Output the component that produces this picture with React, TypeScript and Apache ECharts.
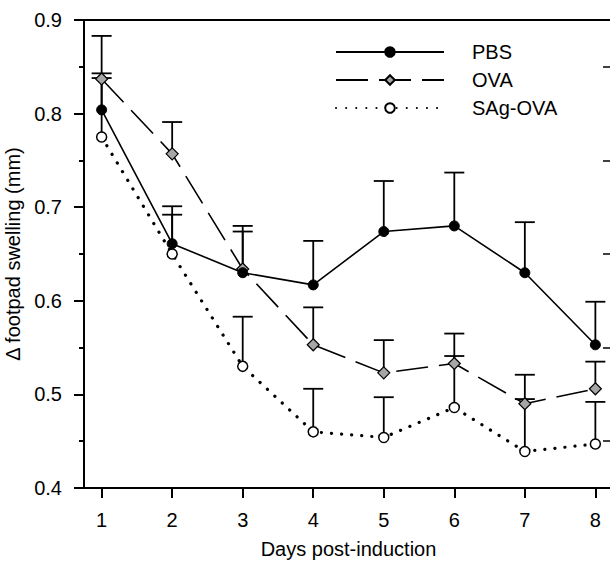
import React, { useEffect, useRef } from "react";
import * as echarts from "echarts";

const days = [1, 2, 3, 4, 5, 6, 7, 8];
const pbsMean = [0.804, 0.661, 0.630, 0.617, 0.674, 0.680, 0.630, 0.553];
const pbsUpper = [0.883, 0.701, 0.674, 0.664, 0.728, 0.737, 0.684, 0.599];
const ovaMean = [0.837, 0.757, 0.634, 0.553, 0.523, 0.533, 0.490, 0.506];
const ovaUpper = [0.843, 0.791, 0.680, 0.593, 0.558, 0.565, 0.521, 0.535];
const sagMean = [0.775, 0.650, 0.530, 0.460, 0.454, 0.486, 0.439, 0.447];
const sagUpper = [0.838, 0.692, 0.583, 0.506, 0.497, 0.541, 0.495, 0.492];
const seriesNames = ["PBS", "OVA", "SAg-OVA"];
const xTitle = "Days post-induction";
const yTitle = "\u0394 footpad swelling (mm)";

const FONT = "'Liberation Sans', Arial, sans-serif";
const FS = 20;

export default function App() {
  const ref = useRef<HTMLDivElement>(null);
  useEffect(() => {
    document.body.style.margin = "0";
    const chart = echarts.init(ref.current!, null, { renderer: "svg" });
    const errSeries = (name: string, mean: number[], upper: number[]) => ({
      type: "custom",
      name: name + "-err",
      z: 1,
      silent: true,
      data: days.map((d, i) => [d, mean[i], upper[i]]),
      encode: { x: 0, y: [1, 2] },
      renderItem: (params: any, api: any) => {
        const p = api.coord([api.value(0), api.value(1)]);
        const t = api.coord([api.value(0), api.value(2)]);
        const st = { stroke: "#000", lineWidth: 1.8 };
        return {
          type: "group",
          children: [
            { type: "line", shape: { x1: p[0], y1: p[1], x2: t[0], y2: t[1] }, style: st },
            { type: "line", shape: { x1: t[0] - 10, y1: t[1], x2: t[0] + 10, y2: t[1] }, style: st },
          ],
        };
      },
    });
    const option: any = {
      animation: false,
      textStyle: { fontFamily: FONT, color: "#000" },
      grid: { left: 84, right: -3, top: 20, bottom: 73, outerBoundsMode: "none" },
      legend: {
        data: seriesNames,
        orient: "vertical",
        left: 330,
        top: 37,
        itemWidth: 108,
        itemHeight: 12,
        itemGap: 8,
        textStyle: { fontSize: FS, fontFamily: FONT, color: "#000", padding: [0, 0, 0, 23] },
      },
      xAxis: [
        {
          type: "value",
          min: 0.75,
          max: 8.25,
          name: xTitle,
          nameLocation: "middle",
          nameGap: 51,
          nameTextStyle: { fontSize: FS, fontFamily: FONT, color: "#000" },
          splitLine: { show: false },
          axisLine: { show: true, lineStyle: { color: "#000", width: 2 } },
          axisTick: { show: true, length: 10, lineStyle: { color: "#000", width: 2 }, customValues: days },
          axisLabel: { fontSize: FS, color: "#000", margin: 22, customValues: days, formatter: (v: number) => String(v) },
        },
        {
          type: "value",
          position: "top",
          min: 0.75,
          max: 8.25,
          splitLine: { show: false },
          axisLine: { show: true, lineStyle: { color: "#000", width: 2 } },
          axisTick: { show: false },
          axisLabel: { show: false },
        },
      ],
      yAxis: [
        {
          type: "value",
          min: 0.4,
          max: 0.9,
          interval: 0.1,
          name: yTitle,
          nameLocation: "middle",
          nameRotate: 90,
          nameGap: 53,
          nameTextStyle: { fontSize: FS, fontFamily: FONT, color: "#000" },
          splitLine: { show: false },
          axisLine: { show: true, lineStyle: { color: "#000", width: 2 } },
          axisTick: { show: true, length: 10, lineStyle: { color: "#000", width: 2 } },
          minorTick: { show: true, splitNumber: 2, length: 5, lineStyle: { color: "#000", width: 2 } },
          minorSplitLine: { show: false },
          axisLabel: { fontSize: FS, color: "#000", margin: 22, formatter: (v: number) => v.toFixed(1) },
        },
        {
          type: "value",
          position: "right",
          min: 0.4,
          max: 0.9,
          interval: 0.1,
          splitLine: { show: false },
          axisLine: { show: true, lineStyle: { color: "#000", width: 2 } },
          axisTick: { show: false, inside: true },
          minorTick: { show: true, splitNumber: 2, length: 10, lineStyle: { color: "#000", width: 1.5 } },
          minorSplitLine: { show: false },
          axisLabel: { show: false },
        },
      ],
      series: [
        errSeries("PBS", pbsMean, pbsUpper),
        errSeries("OVA", ovaMean, ovaUpper),
        errSeries("SAg-OVA", sagMean, sagUpper),
        {
          type: "line",
          name: "PBS",
          z: 5,
          data: days.map((d, i) => [d, pbsMean[i]]),
          symbol: "circle",
          symbolSize: 10,
          itemStyle: { color: "#000", borderColor: "#000", borderWidth: 1 },
          lineStyle: { color: "#000", width: 1.6, type: "solid" },
        },
        {
          type: "line",
          name: "OVA",
          z: 4,
          data: days.map((d, i) => [d, ovaMean[i]]),
          symbol: "diamond",
          symbolSize: 12,
          itemStyle: { color: "#a6a6a6", borderColor: "#000", borderWidth: 1.2 },
          lineStyle: { color: "#000", width: 1.6, type: [32, 11] },
        },
        {
          type: "line",
          name: "SAg-OVA",
          z: 3,
          data: days.map((d, i) => [d, sagMean[i]]),
          symbol: "circle",
          symbolSize: 10,
          itemStyle: { color: "#fff", borderColor: "#000", borderWidth: 1.5 },
          lineStyle: { color: "#000", width: 3.2, type: [0.1, 10], cap: "round" },
        },
      ],
    };
    chart.setOption(option);
    return () => chart.dispose();
  }, []);
  return <div ref={ref} style={{ width: 610, height: 561 }} />;
}
